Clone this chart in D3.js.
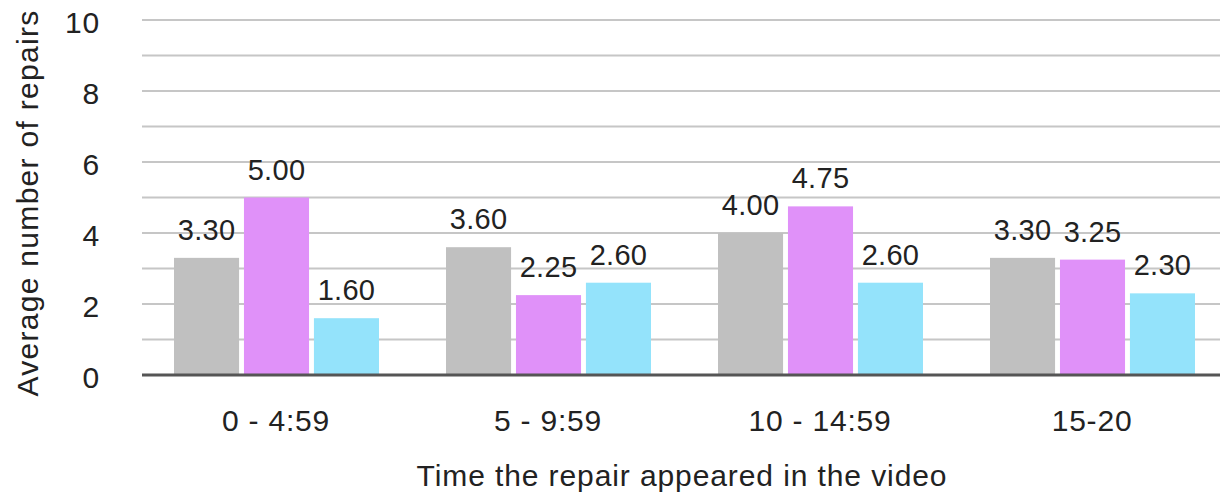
<!DOCTYPE html>
<html><head><meta charset="utf-8">
<script src="https://cdn.jsdelivr.net/npm/d3@7"></script>
<style>body{margin:0;background:#fff}svg{display:block}text{font-family:"Liberation Sans",Arial,sans-serif;fill:#222}</style>
</head><body><svg id="c" width="1220" height="497"></svg>
<script>
const categories = ["0 - 4:59", "5 - 9:59", "10 - 14:59", "15-20"];
const seriesNames = ["A", "B", "C"];
const seriesA = [3.30, 3.60, 4.00, 3.30];
const seriesB = [5.00, 2.25, 4.75, 3.25];
const seriesC = [1.60, 2.60, 2.60, 2.30];
const yTicks = [0, 2, 4, 6, 8, 10];
const colors = ["#c0c0c0", "#e091f9", "#94e3fb"];

const series = [seriesA, seriesB, seriesC];
const svg = d3.select("#c");
const x0 = d3.scaleBand().domain(categories).range([140, 1228]).padding(0);
const x1 = d3.scaleBand().domain(seriesNames).range([34, 239]).paddingInner(0.07);
const y = d3.scaleLinear().domain([0, 10]).range([375, 20]);

const grid = d3.range(1, 11);
svg.append("g").selectAll("line").data(grid).join("line")
  .attr("x1", 142).attr("x2", 1220)
  .attr("y1", d => y(d)).attr("y2", d => y(d))
  .attr("stroke", "#c6c6c6").attr("stroke-width", 2);

const g = svg.append("g").selectAll("g").data(categories).join("g")
  .attr("transform", d => `translate(${x0(d)},0)`);
const rows = (d, i) => series.map((s, j) => ({k: seriesNames[j], v: s[i], j}));
g.selectAll("rect").data(rows).join("rect")
  .attr("x", d => x1(d.k)).attr("width", x1.bandwidth())
  .attr("y", d => y(d.v)).attr("height", d => y(0) - y(d.v))
  .attr("fill", d => colors[d.j]);
g.selectAll("text").data(rows).join("text")
  .attr("x", d => x1(d.k) + x1.bandwidth() / 2)
  .attr("y", d => y(d.v) - 18)
  .attr("text-anchor", "middle").attr("font-size", 29).attr("letter-spacing", 0.3)
  .text(d => d.v.toFixed(2));

svg.append("line").attr("x1", 142).attr("x2", 1220).attr("y1", y(0)).attr("y2", y(0))
  .attr("stroke", "#555").attr("stroke-width", 3);

const yAxis = d3.axisLeft(y).tickValues(yTicks).tickSize(0).tickPadding(0);
const ya = svg.append("g").attr("transform", "translate(100,0)").call(yAxis);
ya.select(".domain").remove();
ya.selectAll("text").attr("font-size", 30).attr("dy", "0.4em").attr("letter-spacing", 0.8).style("fill", "#222")
  .style("font-family", "'Liberation Sans', Arial, sans-serif");

const xAxis = d3.axisBottom(x0).tickSize(0).tickPadding(0);
const xa = svg.append("g").attr("transform", "translate(0,431)").call(xAxis);
xa.select(".domain").remove();
xa.selectAll("text").attr("font-size", 30).attr("dy", "0").attr("y", 0).attr("letter-spacing", 0.8).style("fill", "#222")
  .style("font-family", "'Liberation Sans', Arial, sans-serif");

svg.append("text").attr("x", 682).attr("y", 486).attr("text-anchor", "middle")
  .attr("font-size", 30).attr("letter-spacing", 0.9).text("Time the repair appeared in the video");
svg.append("text").attr("transform", "translate(38,203) rotate(-90)").attr("text-anchor", "middle")
  .attr("font-size", 30).attr("letter-spacing", 1.3).text("Average number of repairs");
</script></body></html>
